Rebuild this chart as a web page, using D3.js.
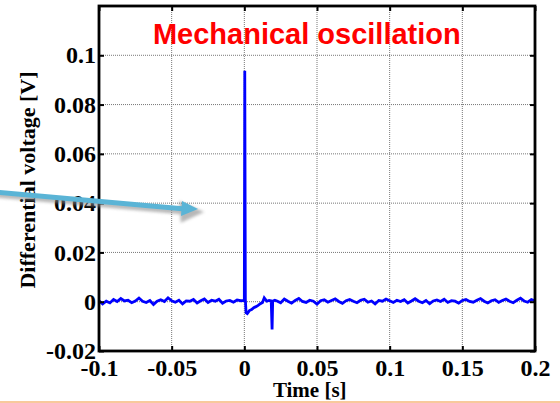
<!DOCTYPE html>
<html>
<head>
<meta charset="utf-8">
<script src="https://cdn.jsdelivr.net/npm/d3@7"></script>
<style>
  body { margin: 0; background: #fff; }
  svg { display: block; }
</style>
</head>
<body>
<script>
// ---- data (voltages in mV) ----
var xTicks = [-0.1, -0.05, 0, 0.05, 0.1, 0.15, 0.2];
var yTicks = [-0.02, 0, 0.02, 0.04, 0.06, 0.08, 0.1];
var xTickLabels = ["-0.1", "-0.05", "0", "0.05", "0.1", "0.15", "0.2"];
var yTickLabels = ["-0.02", "0", "0.02", "0.04", "0.06", "0.08", "0.1"];

// baseline before the impact, every 2.5 ms from -0.1 s
var preStart = -0.1, noiseStep = 0.0025;
var preNoise = [0.4, -0.9, 0.2, -0.5, 0.9, 0.1, 1.3, 0.3, 0.6, -0.4, 0.3, 1.5, 0.2, -0.3, 0.5, -1.1,
  0.2, 0.8, 0.1, 1.6, 0.4, -0.2, 0.6, -0.9, 0.3, 0.2, 0.9, -0.5, 0.4, 1.1, -0.3, 0.6,
  0.2, 1.0, -0.6, 0.3, 0.5, -0.2, 0.7, 0.4];

// transient around t = 0
var eventTime = [0, 0.0003, 0.0007, 0.0012, 0.002, 0.0035, 0.005, 0.0065, 0.008, 0.0095,
  0.011, 0.0125, 0.0137, 0.0155, 0.017, 0.0185, 0.0191, 0.0195, 0.021];
var eventMv = [0.5, 93.7, 1.0, -4.5, -4.8, -3.6, -3.2, -2.4, -2.0, -1.5,
  -0.8, -0.3, 1.6, 0.2, 0.5, 0.3, -11.3, 0.2, 0.6];

// baseline after the transient, every 2.5 ms from 0.0225 s
var postStart = 0.0225;
var postNoise = [0.3, -0.4, 1.1, 0.2, -0.6, 0.5, 1.3, 0.1, -0.3, 0.6, 0.2, -1.0, 0.4, 0.8,
  -0.2, 0.5, 1.2, 0.1, -0.7, 0.4, 0.9, 0.2, -0.4, 0.6, 1.0, -0.2, 0.3, -0.9, 0.5, 0.2,
  1.1, 0.4, -0.3, 0.6, 0.1, 0.8, -0.5, 0.3, 1.2, 0.2, -0.4, 0.5, -0.8, 0.3, 0.7, 0.1,
  1.0, -0.3, 0.4, 0.2, -0.6, 0.5, 0.9, 0.1, -0.2, 0.6, 1.3, 0.2, -0.5, 0.4, 0.8, -0.3,
  0.5, 1.1, 0.2, -0.4, 0.6, 1.4, 0.3, -0.2, 0.9, 0.4];

var data = [];
preNoise.forEach(function (v, i) { data.push({ t: preStart + i * noiseStep, v: v / 1000 }); });
eventTime.forEach(function (t, i) { data.push({ t: t, v: eventMv[i] / 1000 }); });
postNoise.forEach(function (v, i) {
  var t = postStart + i * noiseStep;
  if (t <= 0.2 + 1e-9) data.push({ t: t, v: v / 1000 });
});

// ---- layout ----
var W = 560, H = 403;
var margin = { top: 6, right: 25, bottom: 52, left: 99 },
  width = W - margin.left - margin.right,
  height = H - margin.top - margin.bottom;

var svg = d3.select("body").append("svg")
  .attr("width", W)
  .attr("height", H);

var x = d3.scaleLinear().domain([-0.1, 0.2]).range([0, width]);
var y = d3.scaleLinear().domain([-0.02, 0.12]).range([height, 0]);

var g = svg.append("g")
  .attr("transform", "translate(" + margin.left + "," + margin.top + ")");

// grid
g.selectAll(".vgrid")
  .data(xTicks.slice(1, -1))
  .enter().append("line")
  .attr("x1", function (d) { return x(d); })
  .attr("x2", function (d) { return x(d); })
  .attr("y1", 0).attr("y2", height)
  .style("stroke", "#777").style("stroke-width", 1).style("stroke-dasharray", "1,1");

g.selectAll(".hgrid")
  .data(yTicks.slice(1))
  .enter().append("line")
  .attr("y1", function (d) { return y(d); })
  .attr("y2", function (d) { return y(d); })
  .attr("x1", 0).attr("x2", width)
  .style("stroke", "#777").style("stroke-width", 1).style("stroke-dasharray", "1,1");

// trace
var line = d3.line()
  .x(function (d) { return x(d.t); })
  .y(function (d) { return y(d.v); });

g.append("path")
  .datum(data)
  .attr("d", line)
  .style("fill", "none")
  .style("stroke", "#0000ff")
  .style("stroke-width", 2.8)
  .style("stroke-linejoin", "miter");

// axes (inward ticks on all four sides)
var fontSerif = "'Liberation Serif', 'Times New Roman', serif";

function styleAxis(sel) {
  sel.select(".domain").remove();
  sel.selectAll(".tick line").style("stroke", "#000").style("stroke-width", 2);
}

g.append("g")
  .attr("transform", "translate(0," + height + ")")
  .call(d3.axisBottom(x).tickValues(xTicks).tickSize(-5).tickPadding(8)
    .tickFormat(function (d, i) { return xTickLabels[i]; }))
  .call(styleAxis)
  .selectAll("text")
  .style("font-family", fontSerif).style("font-weight", "bold")
  .style("font-size", "24px").style("fill", "#000");

g.append("g")
  .call(d3.axisTop(x).tickValues(xTicks).tickSize(-5).tickFormat(""))
  .call(styleAxis);

g.append("g")
  .call(d3.axisLeft(y).tickValues(yTicks).tickSize(-5).tickPadding(3)
    .tickFormat(function (d, i) { return yTickLabels[i]; }))
  .call(styleAxis)
  .selectAll("text")
  .style("font-family", fontSerif).style("font-weight", "bold")
  .style("font-size", "24px").style("fill", "#000");

g.append("g")
  .attr("transform", "translate(" + width + ",0)")
  .call(d3.axisRight(y).tickValues(yTicks).tickSize(-5).tickFormat(""))
  .call(styleAxis);

// frame
g.append("rect")
  .attr("width", width).attr("height", height)
  .style("fill", "none").style("stroke", "#000").style("stroke-width", 2.8);

// title inside plot
g.append("text")
  .attr("x", x(0.043))
  .attr("y", 38)
  .attr("text-anchor", "middle")
  .style("font-family", "'Liberation Sans', Arial, sans-serif")
  .style("font-weight", "bold")
  .style("font-size", "29px")
  .style("fill", "#ff0000")
  .text("Mechanical oscillation");

// axis labels
svg.append("text")
  .attr("transform", "translate(35,180) rotate(-90)")
  .attr("text-anchor", "middle")
  .style("font-family", fontSerif).style("font-weight", "bold")
  .style("font-size", "22px")
  .text("Differential voltage [V]");

svg.append("text")
  .attr("x", margin.left + x(0.045))
  .attr("y", 397)
  .attr("text-anchor", "middle")
  .style("font-family", fontSerif).style("font-weight", "bold")
  .style("font-size", "21px")
  .text("Time [s]");

// slide annotation arrow
var defs = svg.append("defs");
var blur = defs.append("filter").attr("id", "shadow")
  .attr("x", "-10%").attr("y", "-50%").attr("width", "120%").attr("height", "200%");
blur.append("feGaussianBlur").attr("stdDeviation", 1.5);

var arrow = svg.append("g");
arrow.append("path")
  .attr("d", "M-5,195 L184,212 M182,205 L198,212 L183,219 Z")
  .attr("filter", "url(#shadow)")
  .style("stroke", "#888").style("stroke-width", 5).style("fill", "#888")
  .style("opacity", 0.6);
arrow.append("line")
  .attr("x1", -5).attr("y1", 192).attr("x2", 185).attr("y2", 209)
  .style("stroke", "#5ab4d6").style("stroke-width", 5);
arrow.append("path")
  .attr("d", "M182,201 L198,209 L181,216 Z")
  .style("fill", "#5ab4d6");

// slide footer line
svg.append("line")
  .attr("x1", 0).attr("x2", W).attr("y1", 402).attr("y2", 402)
  .style("stroke", "#f8c99c").style("stroke-width", 2);
</script>
</body>
</html>
